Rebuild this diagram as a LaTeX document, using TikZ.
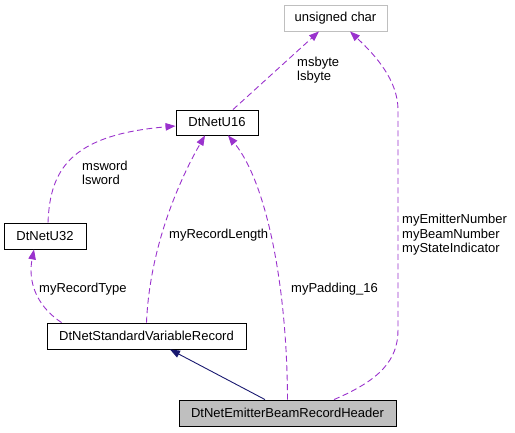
\documentclass[tikz,border=0pt]{standalone}
\usepackage{fontspec}
\setmainfont{Liberation Sans}
\usepackage{tikz}
\usetikzlibrary{arrows.meta,positioning}
\definecolor{membcol}{HTML}{9A32CD}
\definecolor{inhcol}{HTML}{191970}
\definecolor{greycol}{HTML}{BFBFBF}

\begin{document}
\begin{tikzpicture}[x=1pt,y=-1pt,
	box/.style={draw=black,line width=0.9pt,inner sep=0pt,minimum height=26pt,font=\fontsize{13}{15}\selectfont},
	memb/.style={draw=membcol,line width=0.9pt,dash pattern=on 6pt off 3.5pt,-{Triangle[length=10pt,width=7.5pt]}},
	inh/.style={draw=inhcol,line width=0.9pt,-{Triangle[length=10pt,width=7.5pt]}},
	lbl/.style={anchor=west,align=left,inner sep=0pt,font=\fontsize{13}{14.5}\selectfont}]
	\useasboundingbox (0,0) rectangle (515,432);

	\node[box,draw=greycol,minimum width=103pt] (uchar) at (335.5,18) {unsigned char};
	\node[box,minimum width=82pt,minimum height=25pt] (u16) at (217,122.5) {DtNetU16};
	\node[box,minimum width=82pt] (u32) at (45,236) {DtNetU32};
	\node[box,minimum width=199pt] (svr) at (146.5,336) {DtNetStandardVariableRecord};
	\node[box,fill=greycol,minimum width=217pt] (hdr) at (287.5,413) {DtNetEmitterBeamRecordHeader};

	% members
	\draw[memb] ([xshift=16pt]u16.north) -- ([xshift=-16.5pt]uchar.south);
	\node[lbl] (l_byte) at (297,70) {msbyte\\ lsbyte};

	\draw[memb] ([xshift=3pt]u32.north) .. controls (50,170) and (70,135) .. ([yshift=-3.5pt]u16.west);
	\node[lbl] (l_word) at (82,173) {msword\\ lsword};

	\draw[memb] ([xshift=15pt]svr.north west) .. controls (35,305) and (28,280) .. ([xshift=-11pt]u32.south);
	\node[lbl] (l_type) at (39,289) {myRecordType};

	\draw[memb] (svr.north) .. controls (150,240) and (185,170) .. ([xshift=-12pt]u16.south);
	\node[lbl] (l_len) at (169,235) {myRecordLength};

	\draw[memb] (hdr.north) .. controls (287,280) and (265,180) .. ([xshift=11pt]u16.south);
	\node[lbl] (l_pad) at (291,289) {myPadding\_16};

	\draw[memb] ([xshift=46.5pt]hdr.north) .. controls (380,380) and (398,360) .. (398,330)
		-- (398,110) .. controls (398,80) and (375,55) .. ([xshift=14.5pt]uchar.south);
	\node[lbl] (l_emit) at (402,235) {myEmitterNumber\\ myBeamNumber\\ myStateIndicator};

	% inheritance
	\draw[inh] ([xshift=-22.5pt]hdr.north) -- ([xshift=23.5pt]svr.south);
\end{tikzpicture}
\end{document}
